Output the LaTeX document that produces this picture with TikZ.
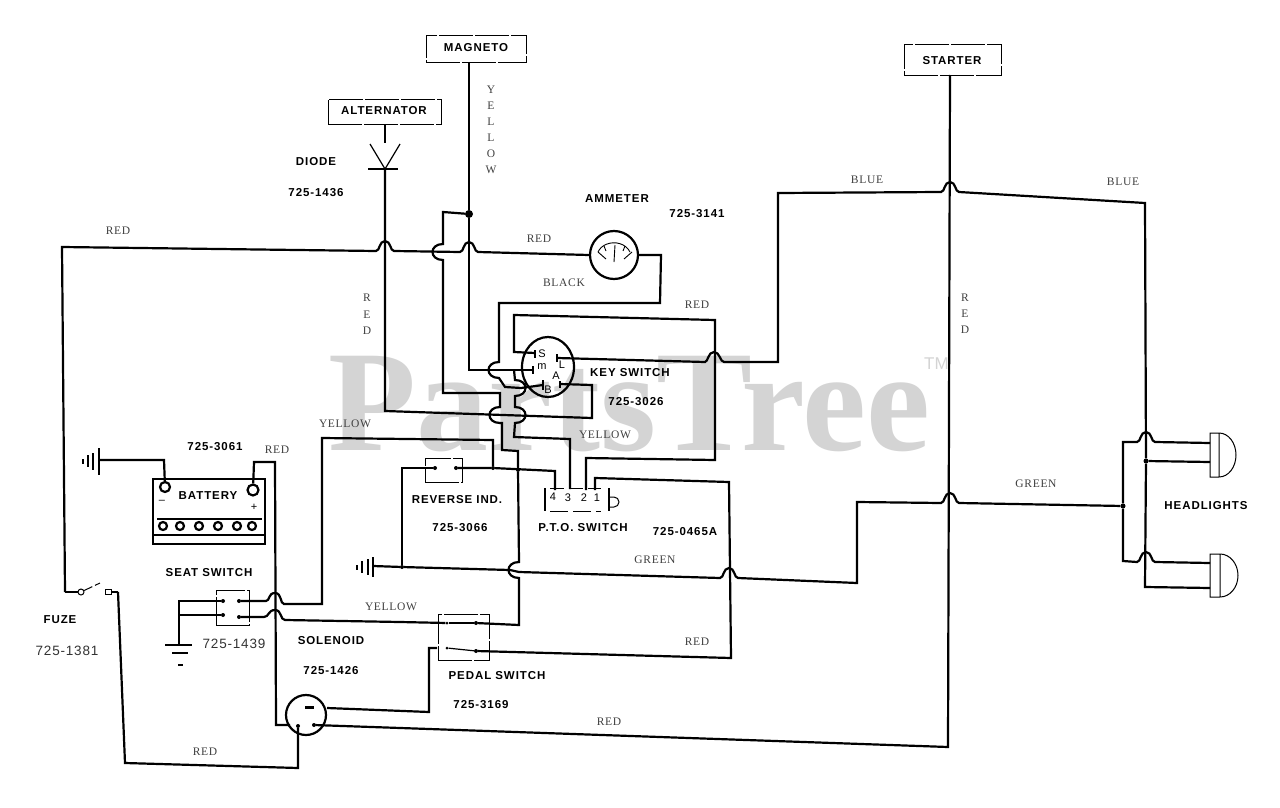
\documentclass[tikz,border=0pt]{standalone}
\usepackage{fontspec}
\usetikzlibrary{shapes.geometric}
\setmainfont{Liberation Sans}
\newfontfamily\labf[LetterSpace=8]{Liberation Sans Bold}
\newfontfamily\wirf[LetterSpace=6]{Liberation Serif}
\newfontfamily\thinf[LetterSpace=6]{Liberation Sans}
\newfontfamily\markf{Liberation Serif Bold}
\newcommand\hopH[2]{-- ({#1-9},#2) .. controls ({#1-5},#2) and ({#1-6},{#2-10}) .. (#1,{#2-10}) .. controls ({#1+6},{#2-10}) and ({#1+5},#2) .. ({#1+9},#2)}
\newcommand\hopL[2]{-- (#1,{#2-8}) .. controls ({#1-14},{#2-8}) and ({#1-14},{#2+8}) .. (#1,{#2+8})}
\newcommand\hopR[2]{-- (#1,{#2-8}) .. controls ({#1+14},{#2-8}) and ({#1+14},{#2+8}) .. (#1,{#2+8})}
\tikzset{
  wire/.style={line width=2.2pt,line join=miter,black},
  fine/.style={line width=1.2pt,black},
  sketch/.style={draw,line width=0.9pt,dash pattern=on 34pt off 2pt,inner sep=0pt},
  part/.style={inner sep=0pt,text=black,font=\labf\fontsize{11.5}{12}\selectfont},
  col/.style={inner sep=0pt,text=black!75,font=\wirf\fontsize{11.5}{12}\selectfont},
  thinnum/.style={inner sep=0pt,text=black!80,font=\thinf\fontsize{13.5}{14}\selectfont},
  dot/.style={circle,fill=black,inner sep=0pt,minimum size=#1},
  dot/.default=5pt,
  ring/.style={circle,draw,line width=2.2pt,inner sep=0pt,minimum size=#1},
  term/.style={inner sep=0pt,font=\fontsize{11}{12}\selectfont}
}
\begin{document}
\begin{tikzpicture}[x=1pt,y=-1pt]
\useasboundingbox (0,0) rectangle (1280,808);
\fill[white] (0,0) rectangle (1280,808);
% watermark
\node[anchor=base west,inner sep=0pt,text=black!17,font=\markf\fontsize{144}{144}\selectfont] (wm) at (328,450) {PartsTree};
\node[anchor=base west,inner sep=0pt,text=black!17,font=\fontsize{17}{17}\selectfont] (tm) at (924,369) {TM};

% component boxes
\node[sketch,minimum width=100pt,minimum height=27pt] (mag) at (476,48.5) {};
\node[sketch,minimum width=113pt,minimum height=25pt] (alt) at (384.5,111.5) {};
\node[sketch,minimum width=97pt,minimum height=31pt] (sta) at (952.5,59.5) {};
\node[sketch,minimum width=37pt,minimum height=24pt] (rev) at (443.5,470) {};
\node[sketch,minimum width=33pt,minimum height=35pt] (seat) at (232.5,607.5) {};
\node[sketch,minimum width=51pt,minimum height=46pt] (ped) at (463.5,637) {};
\node[ring=48pt] (amm) at (614,255) {};
\node[draw,ellipse,line width=2.2pt,minimum width=52pt,minimum height=60pt,inner sep=0pt] (key) at (548,367) {};
\node[ring=40pt] (sol) at (306,715) {};

% terminal and junction coordinates
\coordinate (magout) at (469,62);
\coordinate (altout) at (385,124);
\coordinate (diotop) at (385,143);
\coordinate (diobar) at (385,169);
\coordinate (staout) at (950,75);
\coordinate (solq) at (327,708);
\coordinate (solw) at (290,725);
\node[dot=8pt] (jmag) at (469,214) {};
\node[dot=4pt] (jg) at (402,567) {};
\node[dot=4pt] (jy) at (493,468) {};
\node[dot=4pt] (jrv) at (518,470) {};
\node[dot=5pt] (jhl) at (1146,461) {};
\node[dot=5pt] (jgr) at (1123,506) {};
\node[dot=4pt] (r1) at (435,468) {};
\node[dot=4pt] (r2) at (456,468) {};
\node[dot=4pt] (s1) at (223,601) {};
\node[dot=4pt] (s2) at (223,615) {};
\node[dot=4pt] (s3) at (239,601) {};
\node[dot=4pt] (s4) at (239,617) {};
\node[dot=3pt] (p1) at (447,623) {};
\node[dot=4pt] (p2) at (476,623) {};
\node[dot=3pt] (p3) at (447,648) {};
\node[dot=4pt] (p4) at (476,651) {};
\node[dot=4pt] (so1) at (298,726) {};
\node[dot=4pt] (so2) at (314,725) {};
\node[fill=black,inner sep=0pt,minimum width=9pt,minimum height=3pt] (so3) at (309,707) {};

% magneto / yellow
\draw[wire] (magout) -- (jmag);
\draw[wire] (jmag) -- (469,370) -- (491,370) -- (514,370) -- (533,370);
\draw[wire] (jmag) -- (443,212) \hopL{443}{252} -- (443,393) -- (500,393) \hopL{500}{415} -- (502,423) -- (502,450) -- (518,451) -- (jrv) \hopL{519}{570} -- (519,625) -- (p2);
\draw[wire] (p1) -- (p2);
% alternator / diode
\draw[wire] (altout) -- (diotop);
\draw[fine] (370,144) -- (diobar) -- (400,144);
\draw[fine] (368,169) -- (398,169);
\draw[wire] (diobar) -- (385,411) -- (592,418) -- (592,385) -- (560,384);
% red top wire, ammeter, black
\draw[wire] (65,592) -- (62,247) \hopH{385}{251} \hopH{469}{252} -- (amm.west);
\draw[wire] (amm.east) -- (661,255) -- (660,303) -- (499,303) \hopL{499}{370} -- (505,387) -- (521,388) -- (543,385);
% S terminal, pin 2
\draw[wire] (535,353) -- (514,352) -- (514,315) -- (715,320) -- (715,460) -- (586,458) -- (586,490);
% m terminal to pin 3
\draw[wire] (514,370) \hopR{515}{388} \hopR{515}{415} -- (514,437) -- (570,439) -- (570,489);
% L terminal
\draw[wire] (557,358) -- (705,362) .. controls (708,362) and (708,352) .. (714,352) .. controls (720,352) and (720,362) .. (724,362) -- (778,362) -- (778,193) \hopH{950}{192} -- (1145,203) -- (jhl) -- (1145,587) -- (1210,588);
\draw[wire] (jhl) -- (1210,462);
% headlights feed
\draw[wire] (jgr) -- (1123,442) \hopH{1146}{442} -- (1210,443);
\draw[wire] (jgr) -- (1123,561) \hopH{1146}{562} -- (1210,563);
% green
\draw[wire] (373,566) -- (jg) -- (510,570) -- (519,572) \hopH{729}{578} -- (857,583) -- (857,502) \hopH{950}{503} -- (jgr);
\draw[wire] (jg) -- (402,468) -- (r1);
% reverse to pin 4
\draw[wire] (r2) -- (jy) -- (555,471) -- (555,490);
% yellow seat
\draw[wire] (jy) -- (493,440) -- (322,438) -- (322,604) -- (284,604) .. controls (280,604) and (282,593) .. (275,593) .. controls (268,593) and (270,601) .. (266,601) -- (s3);
\draw[wire] (s4) -- (264,617) .. controls (269,617) and (268,610) .. (275,610) .. controls (282,610) and (280,620) .. (285,620) -- (400,622) -- (p1);
% seat to ground
\draw[wire] (s1) -- (179,601) -- (179,645);
\draw[fine] (179,615) -- (s2);
\draw[fine] (165,645) -- (192,645) (172,653) -- (188,653) (178,665) -- (183,665);
% battery
\node[draw,line width=1.6pt,minimum width=112pt,minimum height=65pt,inner sep=0pt] (bat) at (209,511.5) {};
\node[ring=10pt] (bn) at (165,487) {};
\node[ring=11pt] (bp) at (253,490) {};
\draw[fine] (157,519) -- (262,519);
\draw[wire] (154,535) -- (264,535);
\foreach \i/\cx in {1/163,2/180,3/199,4/218,5/237,6/252}
  \node[ring=8pt] (c\i) at (\cx,526) {};
\draw[wire] (bn) -- (164,460) -- (99,460);
\draw[wire] (bp) -- (254,462) -- (275,462) -- (276,725) -- (solw);
% grounds
\draw[fine] (99,448) -- (99,475) (93,453) -- (93,470) (88,455) -- (88,467) (83,459) -- (83,464);
\draw[fine] (373,557) -- (373,577) (368,559) -- (368,575) (362,561) -- (362,573) (357,565) -- (357,570);
% solenoid wires
\draw[wire] (so1) -- (298,768) -- (125,763) -- (118,592);
\draw[wire] (solq) -- (429,712) -- (429,648) -- (437,648);
\draw[wire] (so2) -- (948,747) -- (staout);
\draw[fine] (p3) -- (p4);
\draw[wire] (p4) -- (731,658) -- (729,482) -- (595,478) -- (595,490);
% fuse
\node[draw,circle,line width=1pt,inner sep=0pt,minimum size=6pt] (fz) at (81,592) {};
\node[draw,line width=1pt,inner sep=0pt,minimum width=6pt,minimum height=5pt] (fq) at (108,592) {};
\draw[wire] (65,592) -- (fz);
\draw[line width=1pt,dash pattern=on 9pt off 3pt] (fz) -- (100,583);
\draw[wire] (fq) -- (118,592);
% PTO switch
\draw[line width=1.4pt] (545,488) -- (545,511);
\draw[line width=1.1pt] (609,488) -- (609,511);
\draw[line width=0.8pt,dash pattern=on 18pt off 5pt] (550,511) -- (601,511);
\draw[line width=0.8pt,dash pattern=on 14pt off 5pt] (550,488) -- (601,488);
\draw[line width=1pt] (610,497) -- (614,497) arc (90:-90:5pt) -- (610,507);
% key switch terminals
\draw[line width=1.5pt] (535,350) -- (535,358) (533,366) -- (533,374) (543,380) -- (543,390) (557,354) -- (557,362) (560,381) -- (560,388);
% headlights
\draw[line width=1pt] (1210,433) -- (1219,433) arc (90:-90:17pt and 22pt) -- (1210,477) -- cycle (1219,433) -- (1219,477);
\draw[line width=1pt] (1210,554) -- (1220,554) arc (90:-90:18pt and 21.5pt) -- (1210,597) -- cycle (1220,554) -- (1220,597);
% ammeter face
\draw[line width=0.9pt] (598,252) arc (160:20:17pt and 14pt);
\draw[line width=0.9pt] (598,252) -- (606,259) (632,252) -- (624,259) (615,245) -- (614,262) (604,246) -- (606,251) (625,246) -- (623,251);

% key switch letters
\node[term] (kS) at (542,354) {S};
\node[term] (kM) at (542,367) {m};
\node[term] (kB) at (548,390) {B};
\node[term] (kA) at (556,376) {A};
\node[term] (kL) at (562,365) {L};
% PTO digits
\node[term] (d4) at (553,497) {4};
\node[term] (d3) at (568,498) {3};
\node[term] (d2) at (584,498) {2};
\node[term] (d1) at (597,498) {1};
% battery signs
\node[term] (bm) at (162,502) {--};
\node[term] (bq) at (254,507) {+};

% part labels
\node[part] (t1) at (476,48) {MAGNETO};
\node[part] (t2) at (384,111) {ALTERNATOR};
\node[part] (t3) at (952,61) {STARTER};
\node[part] (t4) at (316,162) {DIODE};
\node[part] (t5) at (316,193) {725-1436};
\node[part] (t6) at (617,199) {AMMETER};
\node[part] (t7) at (697,214) {725-3141};
\node[part] (t8) at (630,373) {KEY SWITCH};
\node[part] (t9) at (636,402) {725-3026};
\node[part] (t10) at (215,447) {725-3061};
\node[part] (t11) at (208,496) {BATTERY};
\node[part] (t12) at (209,573) {SEAT SWITCH};
\node[part] (t13) at (457,500) {REVERSE IND.};
\node[part] (t14) at (460,528) {725-3066};
\node[part] (t15) at (583,528) {P.T.O. SWITCH};
\node[part] (t16) at (685,532) {725-0465A};
\node[part] (t17) at (60,620) {FUZE};
\node[thinnum] (t18) at (67,651) {725-1381};
\node[thinnum] (t19) at (234,644) {725-1439};
\node[part] (t20) at (331,641) {SOLENOID};
\node[part] (t21) at (331,671) {725-1426};
\node[part] (t22) at (497,676) {PEDAL SWITCH};
\node[part] (t23) at (481,705) {725-3169};
\node[part] (t24) at (1206,506) {HEADLIGHTS};

% wire colour labels
\node[col] (w1) at (118,231) {RED};
\node[col] (w2) at (539,239) {RED};
\node[col] (w3) at (564,283) {BLACK};
\node[col] (w4) at (697,305) {RED};
\node[col] (w5) at (345,424) {YELLOW};
\node[col] (w6) at (605,435) {YELLOW};
\node[col] (w7) at (277,450) {RED};
\node[col] (w8) at (655,560) {GREEN};
\node[col] (w9) at (391,607) {YELLOW};
\node[col] (w10) at (697,642) {RED};
\node[col] (w11) at (609,722) {RED};
\node[col] (w12) at (205,752) {RED};
\node[col] (w13) at (867,180) {BLUE};
\node[col] (w14) at (1123,182) {BLUE};
\node[col] (w15) at (1036,484) {GREEN};
\foreach \i/\ch/\yy in {1/Y/90,2/E/106,3/L/122,4/L/138,5/O/154,6/W/170}
  \node[col] (vy\i) at (491,\yy) {\ch};
\foreach \i/\ch/\yy in {1/R/298,2/E/315,3/D/331}
  \node[col] (vr\i) at (367,\yy) {\ch};
\foreach \i/\ch/\yy in {1/R/298,2/E/314,3/D/330}
  \node[col] (vs\i) at (965,\yy) {\ch};
\end{tikzpicture}
\end{document}
